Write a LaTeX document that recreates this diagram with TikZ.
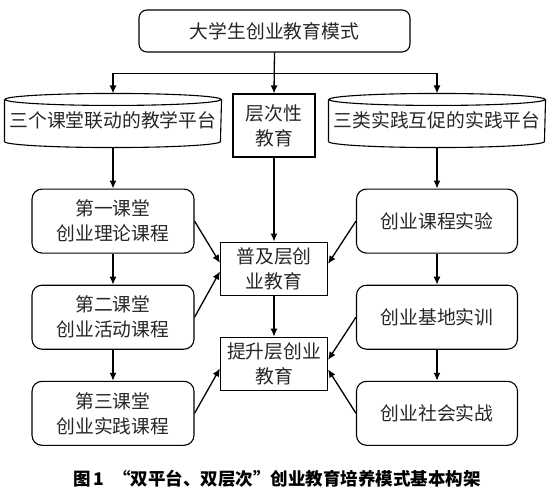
\documentclass[tikz,border=0pt]{standalone}
\usepackage{fontspec}
\newfontfamily\cjk{Noto Sans CJK SC}
\usepackage{tikz}
\usetikzlibrary{positioning,arrows.meta}

\begin{document}
\begin{tikzpicture}[x=1pt, y=1pt,
  base/.style={font=\cjk\fontsize{18.8}{25}\selectfont, align=center, inner sep=0pt,
               line width=1.1pt, text=black!85},
  topbox/.style={base, draw, rounded corners=8pt, minimum width=271pt, minimum height=42pt},
  plat/.style={base, minimum width=216pt, minimum height=53pt},
  level/.style={base, draw, minimum width=107pt, minimum height=53pt},
  course/.style={base, draw, rounded corners=10pt, minimum width=162pt, minimum height=64pt},
  arr/.style={-{Latex[length=8pt,width=7pt]}, line width=1.3pt},
  node distance=31pt
]
\useasboundingbox (0,0) rectangle (550,-490);

%% Top node
\node[topbox] (mode) at (274.5,-31) {大学生创业教育模式};

%% Second row: two platforms and the level node
\node[plat] (platL) at (113,-120.5) {三个课堂联动的教学平台};
\node[plat] (platR) at (437,-120.5) {三类实践互促的实践平台};
\node[level, minimum width=82pt, minimum height=63pt] (levels) at (274,-125.5) {层次性\\教育};

%% Drum outlines of the platforms
\draw[line width=1.1pt] ([yshift=-6pt]platL.north) ellipse (108pt and 6pt);
\draw[line width=1.1pt] ([yshift=-6pt]platL.north west) -- ([yshift=6pt]platL.south west)
  arc[start angle=180, end angle=360, x radius=108pt, y radius=6pt] -- ([yshift=-6pt]platL.north east);
\draw[line width=1.1pt] ([yshift=-6pt]platR.north) ellipse (108pt and 6pt);
\draw[line width=1.1pt] ([yshift=-6pt]platR.north west) -- ([yshift=6pt]platR.south west)
  arc[start angle=180, end angle=360, x radius=108pt, y radius=6pt] -- ([yshift=-6pt]platR.north east);

%% Left column: three classrooms
\node[course, below=41pt of platL] (class1) {第一课堂\\创业理论课程};
\node[course, below=of class1] (class2) {第二课堂\\创业活动课程};
\node[course, below=of class2] (class3) {第三课堂\\创业实践课程};

%% Right column: three practices
\node[course, below=41pt of platR, minimum width=161pt] (prac1) {创业课程实验};
\node[course, below=of prac1, minimum width=161pt] (prac2) {创业基地实训};
\node[course, below=of prac2, minimum width=161pt] (prac3) {创业社会实战};

%% Centre column: two levels
\node[level, below=84pt of levels] (popular) {普及层创\\业教育};
\node[level, below=41pt of popular] (advanced) {提升层创业\\教育};

%% Connectors
\draw[arr] (mode.south) -- (levels.north);
\draw[arr] (mode.south) -- ++(0,-21) -| (platL.north);
\draw[arr] (mode.south) -- ++(0,-21) -| (platR.north);

\draw[arr] (platL.south) -- (class1.north);
\draw[arr] (class1) -- (class2);
\draw[arr] (class2) -- (class3);
\draw[arr] (platR.south) -- (prac1.north);
\draw[arr] (prac1) -- (prac2);
\draw[arr] (prac2) -- (prac3);
\draw[arr] (levels) -- (popular);
\draw[arr] (popular) -- (advanced);

\draw[arr] (class1.east) -- (popular.174);
\draw[arr] (class2.east) -- (popular.183);
\draw[arr] (class3.east) -- (advanced.185);
\draw[arr] (prac1.west) -- (popular.5);
\draw[arr] (prac2.west) -- (advanced.4);
\draw[arr] (prac3.west) -- (advanced.-6);

%% Caption
\node[font=\cjk\bfseries\fontsize{17.5}{20}\selectfont, inner sep=0pt] (caption) at (277,-479)
  {图\,1\enspace“双平台、双层次”创业教育培养模式基本构架};
\end{tikzpicture}
\end{document}
